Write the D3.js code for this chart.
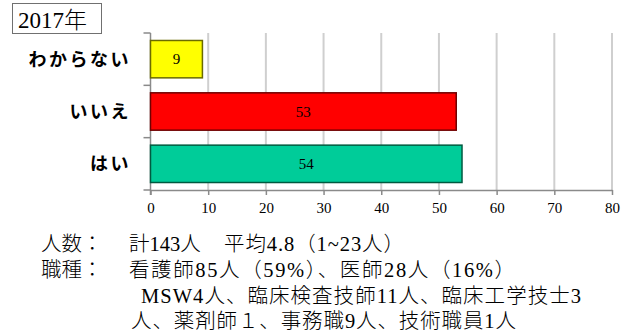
<!DOCTYPE html>
<html>
<head>
<meta charset="utf-8">
<script src="https://cdn.jsdelivr.net/npm/d3@7"></script>
<style>
  html, body { margin: 0; padding: 0; background: #fff; }
  svg { display: block; }
</style>
</head>
<body>
<svg id="chart" width="634" height="334"></svg>
<script>
// Survey answers (2017)
const categories = ["わからない", "いいえ", "はい"];
const values = [9, 53, 54];
const barColors = ["#ffff00", "#ff0000", "#00cc99"];
const barStrokes = ["#6b6b00", "#700000", "#005a40"];
const xTicks = [0, 10, 20, 30, 40, 50, 60, 70, 80];
const yearLabel = "2017年";

// Respondent notes below the chart: [text, x, line, set width or 0]
const notes = [
  ["人数：", 41, 0, 0],
  ["計143人", 129, 0, 0],
  ["平均4.8（1~23人）", 224, 0, 180],
  ["職種：", 41, 1, 0],
  ["看護師85人（59%）、医師28人（16%）", 129, 1, 386],
  ["MSW4人、臨床検査技師11人、臨床工学技士3", 141, 2, 440],
  ["人、薬剤師１、事務職9人、技術職員1人", 131, 3, 385]
];

const serif = "'Liberation Serif', 'Times New Roman', 'Noto Sans CJK JP', serif";
const gothic = "'Noto Sans CJK JP', sans-serif";

const svg = d3.select("#chart");
const plot = { left: 150.5, right: 612, top: 33, bottom: 190 };

const x = d3.scaleLinear().domain([0, 80]).range([plot.left, plot.right]);
const y = d3.scaleBand().domain(categories)
  .range([plot.top, plot.bottom])
  .paddingInner(0.286).paddingOuter(0.143);

// Vertical gridlines
svg.append("g")
  .selectAll("line")
  .data(xTicks.filter(d => d > 0))
  .join("line")
  .attr("x1", d => x(d)).attr("x2", d => x(d))
  .attr("y1", plot.top).attr("y2", plot.bottom)
  .attr("stroke", "#cfcfcf").attr("stroke-width", 2);

// X axis
const xAxis = svg.append("g")
  .attr("transform", `translate(0,${plot.bottom})`)
  .call(d3.axisBottom(x).tickValues(xTicks).tickSize(5).tickPadding(7).tickSizeOuter(0));
xAxis.select(".domain").attr("stroke", "#8a8a8a").attr("stroke-width", 1.5);
xAxis.selectAll(".tick line").attr("stroke", "#8a8a8a").attr("stroke-width", 1.5);
xAxis.selectAll(".tick text")
  .attr("font-family", serif).attr("font-size", 15).attr("fill", "#000");

// Y axis: ticks sit on the band boundaries
const bounds = [plot.top].concat(categories.map(c => y(c) + y.bandwidth() + y.step() * y.paddingInner() / 2));
bounds[bounds.length - 1] = plot.bottom;
const yAxis = svg.append("g");
yAxis.append("line")
  .attr("x1", plot.left).attr("x2", plot.left)
  .attr("y1", plot.top).attr("y2", plot.bottom + 5)
  .attr("stroke", "#8a8a8a").attr("stroke-width", 1.5);
yAxis.selectAll("line.tick")
  .data(bounds)
  .join("line")
  .attr("class", "tick")
  .attr("x1", plot.left - 7).attr("x2", plot.left)
  .attr("y1", d => d).attr("y2", d => d)
  .attr("stroke", "#8a8a8a").attr("stroke-width", 1.5);

// Category labels
svg.append("g")
  .selectAll("text")
  .data(categories)
  .join("text")
  .attr("x", 131)
  .attr("y", d => y(d) + y.bandwidth() / 2)
  .attr("dy", "0.36em")
  .attr("text-anchor", "end")
  .attr("font-family", gothic).attr("font-weight", 700)
  .attr("font-size", 18).attr("letter-spacing", 2.5)
  .attr("fill", "#000")
  .text(d => d);

// Bars
const data = categories.map((c, i) => ({ c, v: values[i], fill: barColors[i], stroke: barStrokes[i] }));
svg.append("g")
  .selectAll("rect")
  .data(data)
  .join("rect")
  .attr("x", x(0))
  .attr("y", d => y(d.c))
  .attr("width", d => x(d.v) - x(0))
  .attr("height", y.bandwidth())
  .attr("fill", d => d.fill)
  .attr("stroke", d => d.stroke).attr("stroke-width", 1.5);

// Value labels centred in each bar
svg.append("g")
  .selectAll("text")
  .data(data)
  .join("text")
  .attr("x", d => x(d.v / 2))
  .attr("y", d => y(d.c) + y.bandwidth() / 2)
  .attr("dy", "0.35em")
  .attr("text-anchor", "middle")
  .attr("font-family", serif).attr("font-size", 15).attr("fill", "#000")
  .text(d => d.v);

// Year box
svg.append("rect")
  .attr("x", 12.5).attr("y", 3.5).attr("width", 89).attr("height", 30)
  .attr("fill", "#fff").attr("stroke", "#707070").attr("stroke-width", 1);
svg.append("text")
  .attr("x", 18).attr("y", 28)
  .attr("font-family", serif).attr("font-size", 23).attr("font-weight", 300).attr("fill", "#000")
  .text(yearLabel);

// Notes
const lineY = [251, 277, 303, 328];
const noteText = svg.append("g")
  .selectAll("text")
  .data(notes)
  .join("text")
  .attr("x", d => d[1])
  .attr("y", d => lineY[d[2]])
  .attr("font-family", serif).attr("font-size", 20.5).attr("font-weight", 300)
  .attr("fill", "#000")
  .text(d => d[0]);
noteText.filter(d => d[3] > 0)
  .attr("textLength", d => d[3])
  .attr("lengthAdjust", "spacing");
</script>
</body>
</html>
